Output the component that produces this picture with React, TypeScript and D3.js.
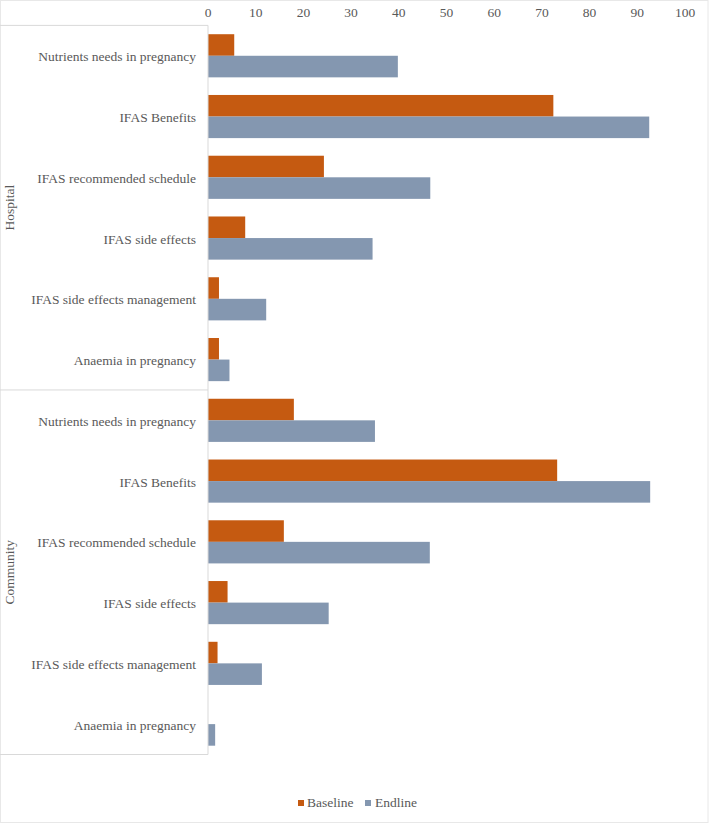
import React from "react";
import * as d3 from "d3";

const categories = [
  "Nutrients needs in pregnancy",
  "IFAS Benefits",
  "IFAS recommended schedule",
  "IFAS side effects",
  "IFAS side effects management",
  "Anaemia in pregnancy",
];
const groups = ["Hospital", "Community"];
const seriesNames = ["Baseline", "Endline"];
const hospitalBaseline = [5.5, 72.4, 24.3, 7.8, 2.3, 2.3];
const hospitalEndline = [39.8, 92.5, 46.6, 34.5, 12.2, 4.5];
const communityBaseline = [18, 73.2, 15.9, 4.1, 2.0, 0];
const communityEndline = [35, 92.7, 46.5, 25.3, 11.3, 1.5];
const xTicks = [0, 10, 20, 30, 40, 50, 60, 70, 80, 90, 100];

const colors = ["#C55A11", "#8497B0"];
const W = 709;
const H = 824;
const FONT = '"Liberation Serif", "Times New Roman", Times, serif';
const TEXT = "#595959";
const FS = 13.5;

export default function App() {
  const rows = groups.flatMap((g, gi) =>
    categories.map((c, ci) => ({
      key: `${g}-${ci}`,
      group: g,
      label: c,
      values: gi === 0
        ? [hospitalBaseline[ci], hospitalEndline[ci]]
        : [communityBaseline[ci], communityEndline[ci]],
    }))
  );

  const plotTop = 25.4;
  const plotBottom = 754.5;
  const axisX = 208;
  const x = d3.scaleLinear().domain([0, 100]).range([axisX, 685]);
  const y = d3
    .scaleBand<string>()
    .domain(rows.map((r) => r.key))
    .range([plotTop, plotBottom])
    .paddingInner(0.29)
    .paddingOuter(0.145);
  const sub = d3.scaleBand<string>().domain(seriesNames).range([0, y.bandwidth()]);
  const step = y.step();
  const groupBoundary = plotTop + step * categories.length;
  const ts = { fontFamily: FONT, fontSize: FS, fill: TEXT } as React.CSSProperties;

  return (
    <svg
      width={W}
      height={H}
      style={{ position: "absolute", left: 0, top: 0, display: "block", background: "#fff", fontFamily: FONT }}
    >
      <rect x={0.5} y={0.5} width={W - 1.5} height={H - 2} fill="none" stroke="#e8e8e8" strokeWidth={1} />
      {/* x tick labels */}
      {xTicks.map((t) => (
        <text key={t} x={x(t)} y={16.5} textAnchor="middle" style={ts}>
          {t}
        </text>
      ))}
      {/* bars */}
      {rows.map((r) =>
        r.values.map((v, si) => (
          <rect
            key={r.key + si}
            x={x(0)}
            y={(y(r.key) as number) + (sub(seriesNames[si]) as number)}
            width={x(v) - x(0)}
            height={sub.bandwidth()}
            fill={colors[si]}
          />
        ))
      )}
      {/* category labels */}
      {rows.map((r) => (
        <text
          key={"l" + r.key}
          x={196}
          y={(y(r.key) as number) + y.bandwidth() / 2 + 5.5}
          textAnchor="end"
          style={ts}
        >
          {r.label}
        </text>
      ))}
      {/* axis box lines */}
      <g stroke="#d9d9d9" strokeWidth={1} fill="none">
        <line x1={axisX} x2={axisX} y1={plotTop} y2={plotBottom} />
        <line x1={0} x2={axisX} y1={plotTop} y2={plotTop} />
        <line x1={0} x2={axisX} y1={groupBoundary} y2={groupBoundary} />
        <line x1={0} x2={axisX} y1={plotBottom} y2={plotBottom} />
      </g>
      {/* group labels */}
      {groups.map((g, gi) => {
        const cy = plotTop + step * categories.length * (gi + 0.5);
        return (
          <text
            key={g}
            transform={`translate(14,${cy}) rotate(-90)`}
            textAnchor="middle"
            style={ts}
          >
            {g}
          </text>
        );
      })}
      {/* legend */}
      <g>
        <rect x={298} y={800} width={6} height={6} fill={colors[0]} />
        <text x={307} y={807} style={ts}>
          {seriesNames[0]}
        </text>
        <rect x={365} y={800} width={6} height={6} fill={colors[1]} />
        <text x={375} y={807} style={ts}>
          {seriesNames[1]}
        </text>
      </g>
    </svg>
  );
}
